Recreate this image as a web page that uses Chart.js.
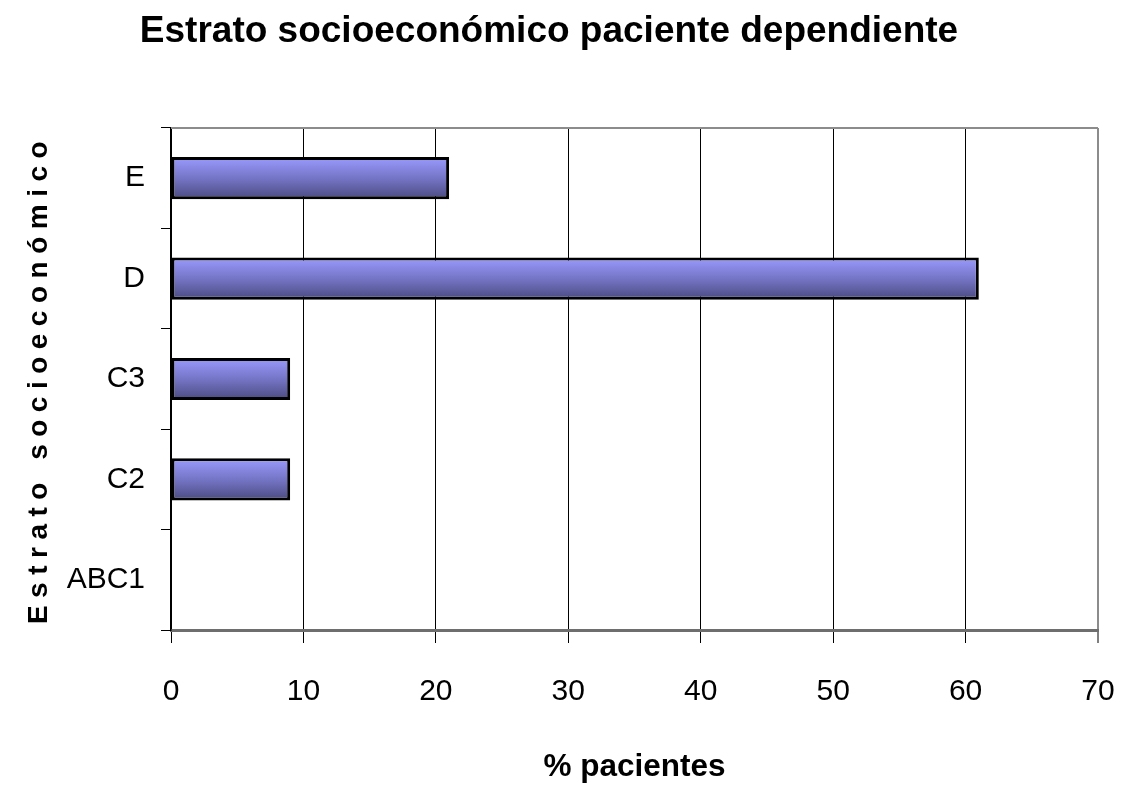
<!DOCTYPE html>
<html>
<head>
<meta charset="utf-8">
<script src="https://cdn.jsdelivr.net/npm/chart.js@4.4.1/dist/chart.umd.min.js"></script>
<style>
  html, body { margin: 0; padding: 0; background: #fff; }
  #wrap { width: 1134px; height: 788px; }
</style>
</head>
<body>
<div id="wrap"><canvas id="estratoChart"></canvas></div>
<script>
// Estrato socioeconómico - paciente dependiente
const categorias = ['ABC1', 'C2', 'C3', 'D', 'E'];
const porcentajes = [0, 9, 9, 61, 21];
const xTicks = [0, 10, 20, 30, 40, 50, 60, 70];

const FONT = '"Liberation Sans", Arial, sans-serif';

// vertical gradient for each bar
function barFill(context) {
    const chart = context.chart;
    const yScale = chart.scales.y;
    if (!yScale || context.type !== 'data') return '#7c7cd8';
    const center = yScale.getPixelForValue(context.dataIndex);
    const half = (yScale.height / categorias.length) * 0.42 / 2;
    if (!isFinite(center) || !isFinite(half) || half <= 0) return '#7c7cd8';
    const g = chart.ctx.createLinearGradient(0, center - half, 0, center + half);
    g.addColorStop(0, '#9a9aff');
    g.addColorStop(0.5, '#7575c6');
    g.addColorStop(1, '#4a4a80');
    return g;
}

// gray frame on top of the plot area
const frame = {
    id: 'frame',
    afterDraw(chart) {
        const { ctx, chartArea } = chart;
        ctx.save();
        ctx.strokeStyle = '#8c8c8c';
        ctx.lineWidth = 2;
        ctx.beginPath();
        ctx.moveTo(chartArea.left, chartArea.top);
        ctx.lineTo(chartArea.right, chartArea.top);
        ctx.stroke();
        ctx.restore();
    }
};

// spaced-out letters on the vertical axis title
const spacedTitle = {
    id: 'spacedTitle',
    afterLayout(chart) {
        const s = chart.scales.y;
        if (!s || s._spaced) return;
        const orig = s.drawTitle.bind(s);
        s.drawTitle = function() {
            const ctx = this.ctx;
            ctx.save();
            ctx.letterSpacing = '7.5px';
            orig();
            ctx.restore();
        };
        s._spaced = true;
    }
};

new Chart(document.getElementById('estratoChart').getContext('2d'), {
    type: 'bar',
    data: {
        labels: categorias,
        datasets: [{
            label: '% pacientes',
            data: porcentajes,
            backgroundColor: barFill,
            borderColor: '#000',
            borderWidth: 3,
            borderSkipped: false,
            categoryPercentage: 1,
            barPercentage: 0.42
        }]
    },
    plugins: [frame, spacedTitle],
    options: {
        indexAxis: 'y',
        responsive: true,
        maintainAspectRatio: false,
        animation: false,
        layout: {
            padding: { top: 0, right: 36, bottom: 0, left: 0 }
        },
        plugins: {
            legend: { display: false },
            tooltip: { enabled: false },
            title: {
                display: true,
                text: 'Estrato socioeconómico paciente dependiente',
                color: '#000',
                font: { family: FONT, size: 37, weight: 'bold', lineHeight: 1.2 },
                padding: { top: 10, bottom: 73.6 }
            }
        },
        scales: {
            x: {
                min: 0,
                max: 70,
                afterBuildTicks(scale) {
                    scale.ticks = xTicks.map(v => ({ value: v }));
                },
                afterFit(scale) {
                    scale.height = 158;
                    scale.paddingLeft = 0;
                    scale.paddingRight = 0;
                },
                grid: {
                    color: ctx => (ctx.tick && ctx.tick.value === 70) ? '#8c8c8c' : '#000',
                    lineWidth: ctx => (ctx.tick && ctx.tick.value === 70) ? 2 : 1,
                    tickLength: 13,
                    tickColor: '#000',
                    tickWidth: 1
                },
                border: { display: true, color: '#6e6e6e', width: 3 },
                ticks: {
                    color: '#000',
                    padding: 31,
                    font: { family: FONT, size: 30 }
                },
                title: {
                    display: true,
                    text: '% pacientes',
                    color: '#000',
                    font: { family: FONT, size: 31.5, weight: 'bold', lineHeight: 1.2 },
                    padding: { top: 0, bottom: 2 }
                }
            },
            y: {
                reverse: true,
                afterFit(scale) {
                    scale.width = 171;
                },
                grid: {
                    offset: true,
                    drawOnChartArea: false,
                    tickLength: 10,
                    color: '#000',
                    lineWidth: 1
                },
                border: { display: true, color: '#000', width: 1.5 },
                ticks: {
                    color: '#000',
                    padding: 16,
                    font: { family: FONT, size: 30 }
                },
                title: {
                    display: true,
                    text: 'Estrato socioeconómico',
                    color: '#000',
                    font: { family: FONT, size: 28, weight: 'bold', lineHeight: 1.2 },
                    padding: { top: 22, bottom: 0 }
                }
            }
        }
    }
});
</script>
</body>
</html>
